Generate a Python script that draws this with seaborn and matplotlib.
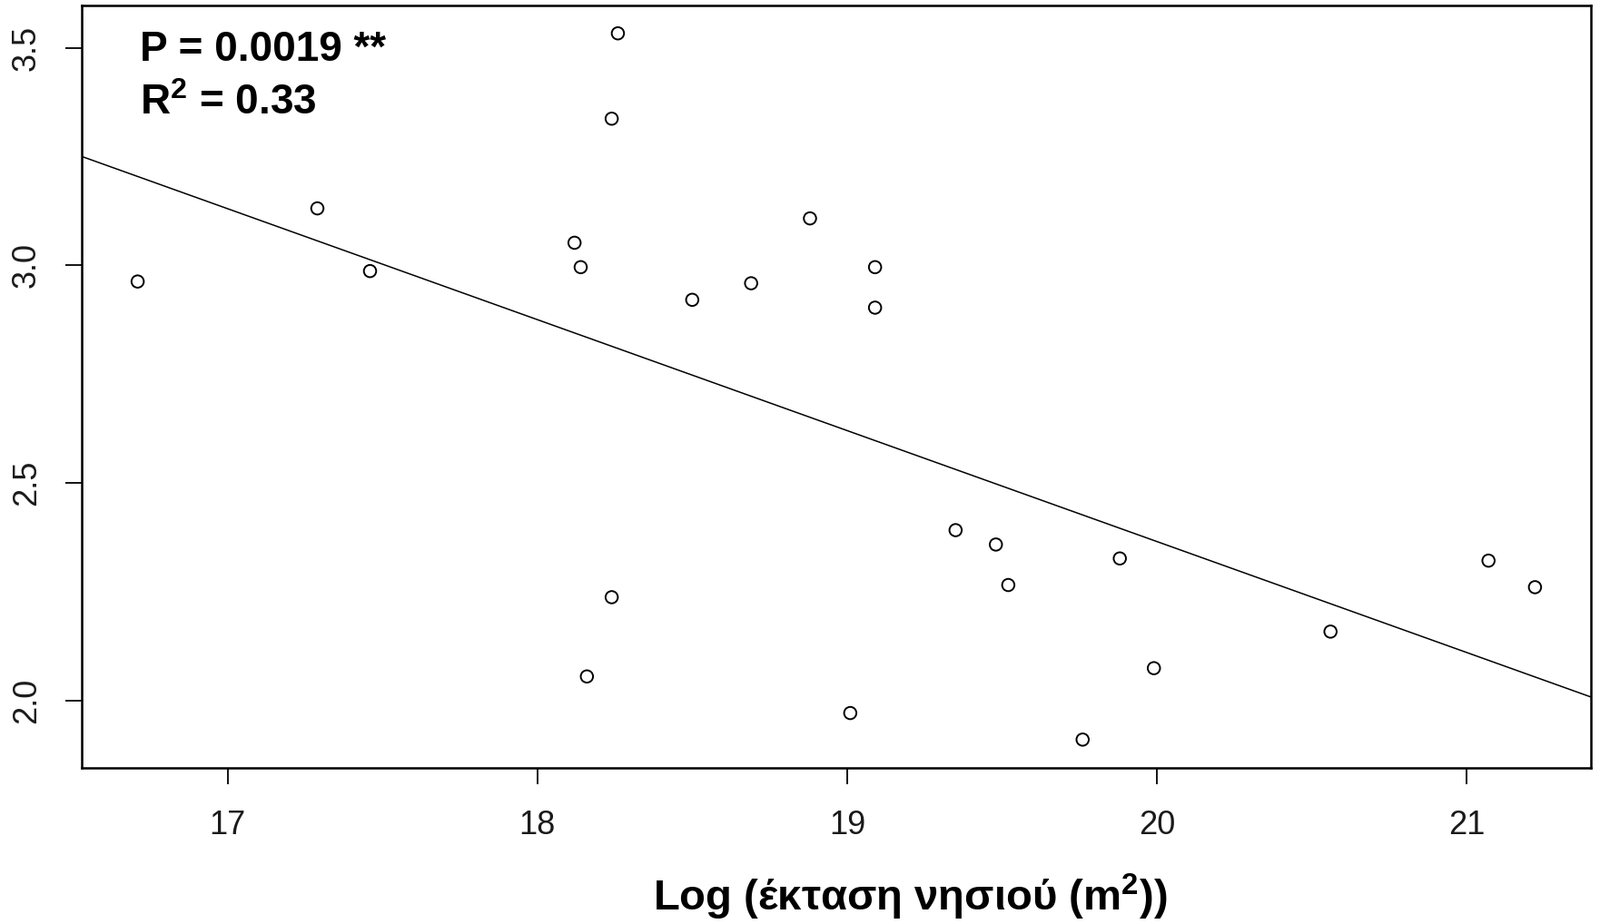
import numpy as np
import pandas as pd
import matplotlib
matplotlib.use("Agg")
import matplotlib.pyplot as plt
import seaborn as sns

# Data (log island area vs. response)
log_area = [16.71, 17.29, 17.46, 18.12, 18.14, 18.24, 18.26, 18.24, 18.16,
            18.50, 18.69, 18.88, 19.09, 19.09, 19.01, 19.35, 19.48, 19.52,
            19.76, 19.88, 19.99, 20.56, 21.07, 21.22]
response = [2.963, 3.131, 2.987, 3.052, 2.996, 3.337, 3.533, 2.238, 2.056,
            2.921, 2.959, 3.108, 2.996, 2.903, 1.972, 2.392, 2.359, 2.266,
            1.911, 2.327, 2.075, 2.159, 2.322, 2.261]
x_ticks = [17, 18, 19, 20, 21]
y_ticks = [2.0, 2.5, 3.0, 3.5]
stats_text = ["P = 0.0019 **", "R$^2$ = 0.33"]
x_label = "Log (έκταση νησιού (m$^2$))"

df = pd.DataFrame({"area": log_area, "resp": response})

sns.set_theme(style="white")
plt.rcParams["font.family"] = ["Liberation Sans", "DejaVu Sans"]
plt.rcParams["mathtext.fontset"] = "custom"
plt.rcParams["mathtext.bf"] = "Liberation Sans:bold"
plt.rcParams["mathtext.rm"] = "Liberation Sans"
plt.rcParams["mathtext.default"] = "bf"

fig = plt.figure(figsize=(17.62, 10.18), dpi=100)
ax = fig.add_axes([0.0511, 0.1690, 0.9432, 0.8255])

# R-style 4% padding around the data range
def padded(v):
    lo, hi = min(v), max(v)
    d = (hi - lo) * 0.04
    return lo - d, hi + d

ax.set_xlim(*padded(log_area))
ax.set_ylim(*padded(response))

sns.scatterplot(data=df, x="area", y="resp", ax=ax, s=95,
                facecolor="none", edgecolor="black", linewidth=1.4)
sns.regplot(data=df, x="area", y="resp", ax=ax, scatter=False, ci=None,
            truncate=False, line_kws={"color": "black", "lw": 1.1})

ax.set_xlim(*padded(log_area))
ax.set_ylim(*padded(response))

ax.set_xticks(x_ticks)
ax.set_yticks(y_ticks)
ax.set_xticklabels([str(t) for t in x_ticks])
ax.set_yticklabels([f"{t:.1f}" for t in y_ticks], rotation=90, va="center")
ax.tick_params(axis="both", direction="out", length=13, width=1.3,
               color="black", labelsize=26, labelcolor="#1a1a1a",
               bottom=True, left=True)
ax.tick_params(axis="x", pad=20)
ax.tick_params(axis="y", pad=18)
for sp in ax.spines.values():
    sp.set_color("black")
    sp.set_linewidth(1.8)

ax.set_xlabel("")
ax.set_ylabel("")

ax.text(0.0385, 0.927, stats_text[0], transform=ax.transAxes, color="black",
        fontsize=33, fontweight="bold", va="baseline", ha="left")
ax.text(0.0385, 0.857, stats_text[1], transform=ax.transAxes, color="black",
        fontsize=33, fontweight="bold", va="baseline", ha="left")

fig.text(1002 / 1762, 1 - 1003 / 1018, x_label, fontsize=34, color="black",
         fontweight="bold", ha="center", va="baseline")

fig.savefig("out.png", dpi=100)
